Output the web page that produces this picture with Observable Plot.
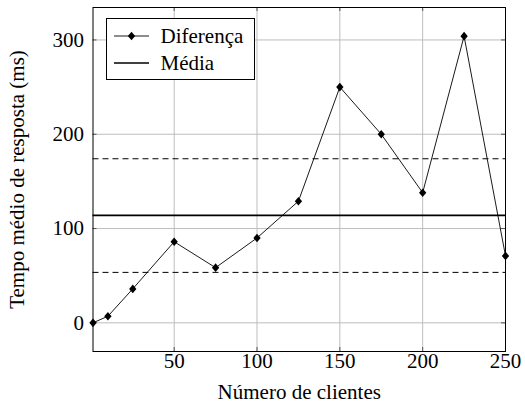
<!DOCTYPE html>
<html>
<head>
<meta charset="utf-8">
<script src="https://cdn.jsdelivr.net/npm/d3@7"></script>
<script src="https://cdn.jsdelivr.net/npm/@observablehq/plot@0.6"></script>
<style>
  body { margin: 0; background: #fff; }
  #wrap { position: relative; width: 525px; height: 412px; font-family: "Liberation Serif", "Times New Roman", serif; }
  #wrap svg g, #wrap svg text { font-family: "Liberation Serif", "Times New Roman", serif !important; font-size: 21px !important; }
  #legend { position: absolute; left: 105.5px; top: 18px; width: 147px; height: 60px; border: 1px solid #000; background: #fff; font-size: 21px; font-family: "Liberation Serif", "Times New Roman", serif; }
  .row { position: absolute; left: 0; height: 24px; display: flex; align-items: center; }
  .row svg { margin-left: 7px; }
  .row span { margin-left: 12px; line-height: 24px; font-family: "Liberation Serif", "Times New Roman", serif; font-size: 21px; }
</style>
</head>
<body>
<div id="wrap"></div>
<script>
const clients = [1, 10, 25, 50, 75, 100, 125, 150, 175, 200, 225, 250];
const responseTime = [0, 7, 36, 86, 58.5, 90, 129, 250, 200, 138, 304, 71];
const meanValue = 114;
const bandValues = [174, 53.5];
const xTicks = [50, 100, 150, 200, 250];
const yTicks = [0, 100, 200, 300];
const seriesNames = ["Diferença", "Média"];
const xLabel = "Número de clientes";
const yLabel = "Tempo médio de resposta (ms)";

const data = clients.map((c, i) => ({x: c, y: responseTime[i]}));

const tallDiamond = {
  draw(ctx, size) {
    const r = Math.sqrt(size / Math.PI);
    const hx = r * 0.85, hy = r;
    ctx.moveTo(0, -hy); ctx.lineTo(hx, 0); ctx.lineTo(0, hy); ctx.lineTo(-hx, 0); ctx.closePath();
  }
};

const mL = 92.5, mR = 20, mT = 7, mB = 61, W = 525, H = 412;
const pw = W - mL - mR, ph = H - mT - mB;

const chart = Plot.plot({
  width: W, height: H,
  marginLeft: mL, marginRight: mR, marginTop: mT, marginBottom: mB,
  style: {fontFamily: '"Liberation Serif", "Times New Roman", serif', fontSize: "21px", background: "#fff", color: "#000"},
  x: {domain: [1, 250]},
  y: {domain: [-30.4, 334.4]},
  marks: [
    Plot.gridX(xTicks, {stroke: "#bdbdbd", strokeOpacity: 1, strokeWidth: 1}),
    Plot.gridY(yTicks, {stroke: "#bdbdbd", strokeOpacity: 1, strokeWidth: 1}),
    Plot.tickX(xTicks, {x: d => d, stroke: "#555", insetTop: ph - 4}),
    Plot.tickX(xTicks, {x: d => d, stroke: "#555", insetBottom: ph - 4}),
    Plot.tickY(yTicks, {y: d => d, stroke: "#555", insetRight: pw - 4}),
    Plot.tickY(yTicks, {y: d => d, stroke: "#555", insetLeft: pw - 4}),
    Plot.ruleY(bandValues, {stroke: "#000", strokeWidth: 1, strokeDasharray: "6,4"}),
    Plot.ruleY([meanValue], {stroke: "#000", strokeWidth: 1.6}),
    Plot.line(data, {x: "x", y: "y", stroke: "#000", strokeWidth: 0.9}),
    Plot.dot(data, {x: "x", y: "y", r: 4.3, symbol: tallDiamond, fill: "#000", stroke: "none"}),
    Plot.frame({stroke: "#000", strokeWidth: 1}),
    Plot.axisX(xTicks, {tickSize: 0, tickPadding: 2, label: null, fontSize: 21}),
    Plot.axisY(yTicks, {tickSize: 0, tickPadding: 9, label: null, fontSize: 21}),
    Plot.text([xLabel], {frameAnchor: "bottom", dy: 47, fontSize: 21}),
    Plot.text([yLabel], {frameAnchor: "left", dx: -75.5, rotate: -90, textAnchor: "middle", fontSize: 21})
  ]
});

const wrap = document.getElementById("wrap");
wrap.appendChild(chart);

const legend = document.createElement("div");
legend.id = "legend";
const sampleLine = (withMarker, sw) => `<svg width="35" height="12" viewBox="0 0 35 12"><line x1="0" y1="6" x2="35" y2="6" stroke="#000" stroke-width="${sw}"/>${withMarker ? '<path d="M17.5,1.7L21.2,6L17.5,10.3L13.8,6Z" fill="#000"/>' : ''}</svg>`;
legend.innerHTML =
  `<div class="row" style="top:5px">${sampleLine(true, 0.9)}<span>${seriesNames[0]}</span></div>` +
  `<div class="row" style="top:32px">${sampleLine(false, 1.6)}<span>${seriesNames[1]}</span></div>`;
wrap.appendChild(legend);
</script>
</body>
</html>
